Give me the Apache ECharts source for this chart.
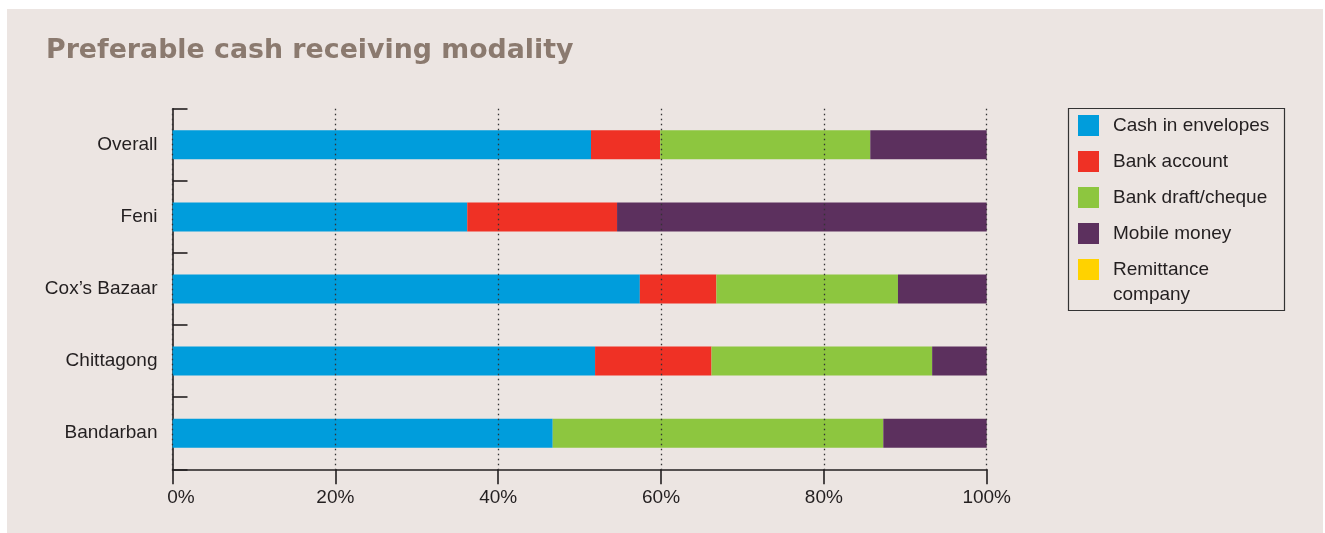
<!DOCTYPE html>
<html>
<head>
<meta charset="utf-8">
<script src="https://cdn.jsdelivr.net/npm/echarts@6/dist/echarts.min.js"></script>
<style>
html,body{margin:0;padding:0;background:#ffffff;}
#bg{position:absolute;left:7px;top:9px;width:1316px;height:524px;background:#ece5e2;}
#chart{position:absolute;left:0;top:0;width:1325px;height:533px;}
</style>
</head>
<body>
<div id="bg"></div>
<div id="chart"></div>
<script>
const categories = ['Overall', 'Feni', 'Cox\u2019s Bazaar', 'Chittagong', 'Bandarban'];
const seriesNames = ['Cash in envelopes', 'Bank account', 'Bank draft/cheque', 'Mobile money', 'Remittance company'];
const cashInEnvelopes = [51.4, 36.2, 57.4, 51.9, 46.7];
const bankAccount     = [8.5, 18.4, 9.4, 14.3, 0];
const bankDraft       = [25.8, 0, 22.3, 27.1, 40.6];
const mobileMoney     = [14.3, 45.4, 10.9, 6.7, 12.7];
const remittance      = [0, 0, 0, 0, 0];
const xTicks = [0, 20, 40, 60, 80, 100];

const colors = ['#009ddc', '#ef3125', '#8dc63f', '#5c305e', '#ffd200'];
const values = [cashInEnvelopes, bankAccount, bankDraft, mobileMoney, remittance];
const txt = '#231f20';

const chart = echarts.init(document.getElementById('chart'), null, {renderer: 'canvas'});
const option = {
  animation: false,
  backgroundColor: 'transparent',
  color: colors,
  title: {
    text: 'Preferable cash receiving modality',
    left: 41, top: 33,
    textStyle: {fontFamily: 'DejaVu Sans', fontWeight: 'bold', fontSize: 26.8, color: '#8b7a6f'}
  },
  grid: {left: 172.5, right: 338.3, top: 108.7, bottom: 63.7, containLabel: false},
  xAxis: {
    type: 'value', min: xTicks[0], max: xTicks[xTicks.length - 1], interval: 20, z: 5,
    axisLine: {show: true, lineStyle: {color: txt, width: 1.6}},
    axisTick: {show: true, length: 15, lineStyle: {color: txt, width: 1.6}},
    splitLine: {show: true, lineStyle: {color: '#333', width: 1.3, type: [1.5, 3.5]}},
    axisLabel: {
      margin: 19, fontFamily: 'Liberation Sans', fontSize: 19, color: txt,
      formatter: function (v) { return v === 0 ? '{z|' + v + '%}' : v + '%'; },
      rich: {z: {padding: [0, 0, 0, 17], fontFamily: 'Liberation Sans', fontSize: 19, color: txt}}
    }
  },
  yAxis: {
    type: 'category', inverse: true, data: categories,
    axisLine: {show: true, lineStyle: {color: txt, width: 1.6}},
    axisTick: {show: true, inside: true, length: 15, lineStyle: {color: txt, width: 1.6}},
    axisLabel: {margin: 15, fontFamily: 'Liberation Sans', fontSize: 19, color: txt},
    splitLine: {show: false}
  },
  legend: [
    {
      data: seriesNames.slice(0, 4), orient: 'vertical', left: 1078, top: 115,
      padding: 0, itemWidth: 21, itemHeight: 21, itemGap: 15, icon: 'rect',
      selectedMode: false,
      textStyle: {fontFamily: 'Liberation Sans', fontSize: 19, color: txt, padding: [0, 0, 0, 9]}
    },
    {
      data: [seriesNames[4]], orient: 'vertical', left: 1078, top: 232,
      padding: 0, itemWidth: 21, itemHeight: 21, icon: 'rect',
      selectedMode: false,
      formatter: function (n) { return '\n' + n.replace(' ', '\n'); },
      textStyle: {fontFamily: 'Liberation Sans', fontSize: 19, lineHeight: 25, color: txt, padding: [0, 0, 0, 9]}
    }
  ],
  graphic: [{
    type: 'rect', z: 10, silent: true,
    shape: {x: 1068.5, y: 108.5, width: 216, height: 202},
    style: {fill: 'none', stroke: '#333', lineWidth: 1.2}
  }],
  series: seriesNames.map(function (name, i) {
    return {
      name: name, type: 'bar', stack: 'total', barWidth: 29,
      data: values[i], itemStyle: {color: colors[i]}
    };
  })
};
chart.setOption(option);
</script>
</body>
</html>
